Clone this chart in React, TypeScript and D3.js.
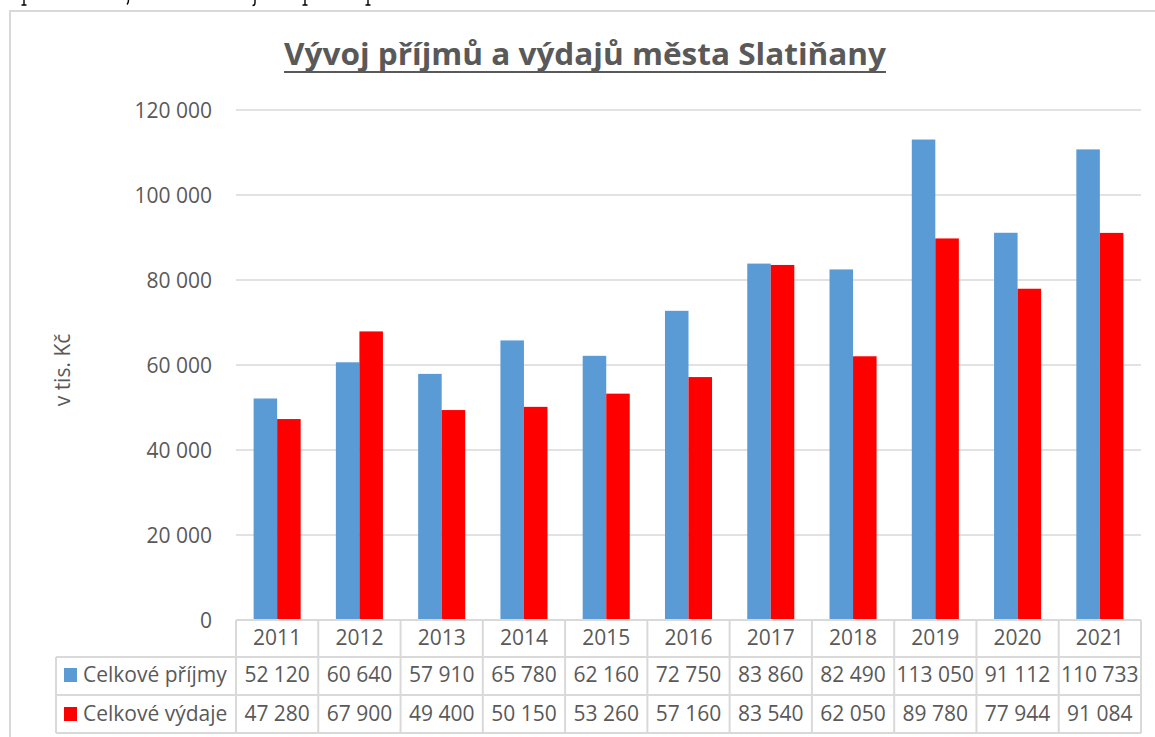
import React from "react";
import * as d3 from "d3";

const years = ["2011", "2012", "2013", "2014", "2015", "2016", "2017", "2018", "2019", "2020", "2021"];
const prijmy = [52120, 60640, 57910, 65780, 62160, 72750, 83860, 82490, 113050, 91112, 110733];
const vydaje = [47280, 67900, 49400, 50150, 53260, 57160, 83540, 62050, 89780, 77944, 91084];
const seriesNames = ["Celkové příjmy", "Celkové výdaje"];
const seriesColors = ["#5b9bd5", "#ff0000"];
const yTicks = [0, 20000, 40000, 60000, 80000, 100000, 120000];
const title = "Vývoj příjmů a výdajů města Slatiňany";
const yLabel = "v tis. Kč";

const W = 1155;
const H = 737;
const TEXT = "#595959";
const GRID = "#d9d9d9";
const FONT = "'Open Sans', sans-serif";

const fmt = (v: number) => {
  const s = String(v);
  return s.replace(/\B(?=(\d{3})+(?!\d))/g, " ");
};

export default function App() {
  const left = 236;
  const right = 1141;
  const x = d3.scaleBand<string>().domain(years).range([left, right]).padding(0);
  const bw = x.bandwidth();
  const xs = d3
    .scaleBand<string>()
    .domain(seriesNames)
    .range([bw * 0.214, bw * 0.786])
    .padding(0);
  const y = d3.scaleLinear().domain([0, 120000]).range([620, 110]);
  const data = [prijmy, vydaje];

  const rowTop = [620, 657, 695, 733];
  const legendLeft = 56;

  return (
    <svg
      width={W}
      height={H}
      style={{ position: "absolute", left: 0, top: 0, background: "#fff" }}
      fontFamily={FONT}
    >
      <rect x={0} y={0} width={W} height={H} fill="#fff" />
      {/* descenders of the cut-off text line above the chart */}
      <g stroke="#000" strokeWidth={1.4} fill="none">
        <path d="M24,0 V5 M21.5,5 H26.5" />
        <path d="M128.5,0 Q128.5,3 127,4.5" />
        <path d="M255,0 V3 Q255,5.5 252.5,5.5" />
        <path d="M305,0 V5 M302.5,5 H307.5" />
        <path d="M368,0 V5 M365.5,5 H370.5" />
      </g>
      {/* chart border */}
      <rect x={10} y={11} width={1300} height={900} fill="none" stroke={GRID} strokeWidth={2} />

      {/* title */}
      <text
        x={585}
        y={65}
        textAnchor="middle"
        fontSize={30}
        fontWeight="bold"
        fill={TEXT}
        textLength={602}
        lengthAdjust="spacingAndGlyphs"
      >
        {title}
      </text>
      <line x1={284} x2={886} y1={72} y2={72} stroke={TEXT} strokeWidth={2} />

      {/* gridlines and y ticks */}
      {yTicks.map((t) => (
        <g key={t}>
          {t > 0 && (
            <line x1={left} x2={right} y1={y(t)} y2={y(t)} stroke={GRID} strokeWidth={1.5} />
          )}
          <text x={212} y={y(t) + 7.5} textAnchor="end" fontSize={21} fill={TEXT}>
            {fmt(t)}
          </text>
        </g>
      ))}

      {/* y label */}
      <text
        transform={`translate(70, 370) rotate(-90)`}
        textAnchor="middle"
        fontSize={21}
        fill={TEXT}
      >
        {yLabel}
      </text>

      {/* bars */}
      {years.map((yr, i) => (
        <g key={yr} transform={`translate(${x(yr)},0)`}>
          {seriesNames.map((s, si) => (
            <rect
              key={s}
              x={xs(s)}
              y={y(data[si][i])}
              width={xs.bandwidth()}
              height={y(0) - y(data[si][i])}
              fill={seriesColors[si]}
            />
          ))}
        </g>
      ))}

      {/* data table */}
      <g stroke={GRID} strokeWidth={2} fill="none">
        <line x1={left} x2={right} y1={rowTop[0]} y2={rowTop[0]} />
        {[1, 2, 3].map((r) => (
          <line key={r} x1={legendLeft} x2={right} y1={rowTop[r]} y2={rowTop[r]} />
        ))}
        <line x1={legendLeft} x2={legendLeft} y1={rowTop[1]} y2={rowTop[3]} />
        {years.map((yr) => (
          <line key={yr} x1={x(yr)} x2={x(yr)} y1={rowTop[0]} y2={rowTop[3]} />
        ))}
        <line x1={right} x2={right} y1={rowTop[0]} y2={rowTop[3]} />
      </g>
      {years.map((yr, i) => (
        <g key={yr} fontSize={21} fill={TEXT} textAnchor="middle">
          <text x={(x(yr) as number) + bw / 2} y={645}>
            {yr}
          </text>
          <text x={(x(yr) as number) + bw / 2} y={682}>
            {fmt(prijmy[i])}
          </text>
          <text x={(x(yr) as number) + bw / 2} y={721}>
            {fmt(vydaje[i])}
          </text>
        </g>
      ))}
      {seriesNames.map((s, si) => (
        <g key={s}>
          <rect x={64} y={si === 0 ? 668 : 707} width={13} height={14} fill={seriesColors[si]} />
          <text x={83} y={si === 0 ? 682 : 721} fontSize={21} fill={TEXT}>
            {s}
          </text>
        </g>
      ))}
    </svg>
  );
}
